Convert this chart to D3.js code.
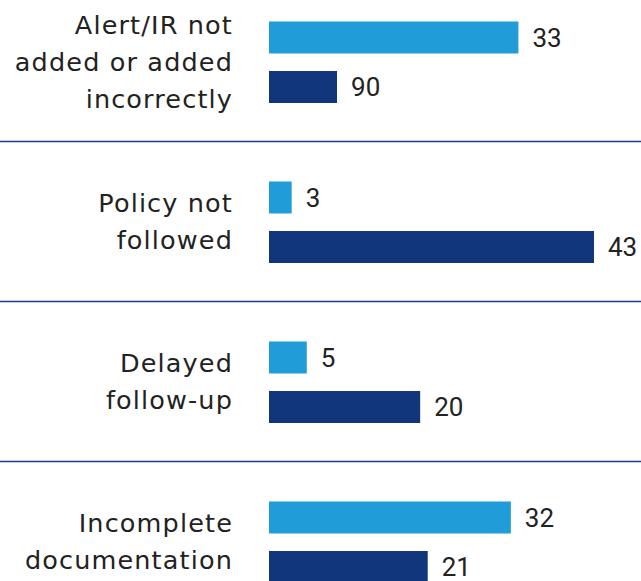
<!DOCTYPE html>
<html>
<head>
<meta charset="utf-8">
<script src="https://cdn.jsdelivr.net/npm/d3@7"></script>
<style>
  html, body { margin: 0; padding: 0; background: #ffffff; }
  svg { display: block; }
</style>
</head>
<body>
<svg id="chart" width="641" height="581"></svg>
<script>
// Categories (label lines) and the two series
const categories = [
  ["Alert/IR not", "added or added", "incorrectly"],
  ["Policy not", "followed"],
  ["Delayed", "follow-up"],
  ["Incomplete", "documentation"]
];
const lightValues = [33, 3, 5, 32];
const darkValues = [9, 43, 20, 21];
// Value labels as printed next to each bar
const lightLabels = ["33", "3", "5", "32"];
const darkLabels = ["90", "43", "20", "21"];

const W = 641, H = 581;
const svg = d3.select("#chart");

const catKeys = categories.map(c => c.join(" "));
const yGroup = d3.scaleBand().domain(catKeys).range([-18.5, 621.5]);
const ySeries = d3.scaleBand().domain(["light", "dark"]).range([40, 121.5])
  .paddingInner(0.3535).paddingOuter(0);
const x = d3.scaleLinear().domain([0, 43]).range([269, 594]);

const colors = { light: "#209dd8", dark: "#12367c" };

const rows = catKeys.map((k, i) => ({
  key: k, lines: categories[i],
  series: [
    { s: "light", v: lightValues[i], label: lightLabels[i] },
    { s: "dark", v: darkValues[i], label: darkLabels[i] }
  ]
}));

// separators between groups
svg.selectAll("line.sep").data(rows.slice(0, -1)).join("line")
  .attr("class", "sep")
  .attr("x1", 0).attr("x2", W)
  .attr("y1", d => yGroup(d.key) + yGroup.bandwidth())
  .attr("y2", d => yGroup(d.key) + yGroup.bandwidth())
  .attr("stroke", "#1a3a8c").attr("stroke-width", 1.3);

const g = svg.selectAll("g.grp").data(rows).join("g")
  .attr("class", "grp")
  .attr("transform", d => `translate(0,${yGroup(d.key)})`);

g.selectAll("rect").data(d => d.series).join("rect")
  .attr("x", x(0))
  .attr("y", d => ySeries(d.s))
  .attr("width", d => x(d.v) - x(0))
  .attr("height", ySeries.bandwidth())
  .attr("fill", d => colors[d.s]);

g.selectAll("text.val").data(d => d.series).join("text")
  .attr("class", "val")
  .attr("x", d => x(d.v) + 14)
  .attr("y", d => ySeries(d.s) + ySeries.bandwidth() / 2)
  .attr("dy", "0.36em")
  .attr("font-family", "Roboto, 'Liberation Sans', sans-serif")
  .attr("font-size", 26)
  .attr("fill", "#222")
  .text(d => d.label);

const lineH = 37;
const center = (ySeries("light") + ySeries("dark") + ySeries.bandwidth()) / 2;
g.each(function(d) {
  const n = d.lines.length;
  const t = d3.select(this).append("text")
    .attr("text-anchor", "end")
    .attr("font-family", "'DejaVu Sans', sans-serif")
    .attr("font-size", 25.5)
    .attr("letter-spacing", 1.15)
    .attr("fill", "#222");
  t.selectAll("tspan").data(d.lines).join("tspan")
    .attr("x", 233)
    .attr("y", (l, j) => center - (n - 1) * lineH / 2 + 8.5 + j * lineH)
    .text(l => l);
});
</script>
</body>
</html>
